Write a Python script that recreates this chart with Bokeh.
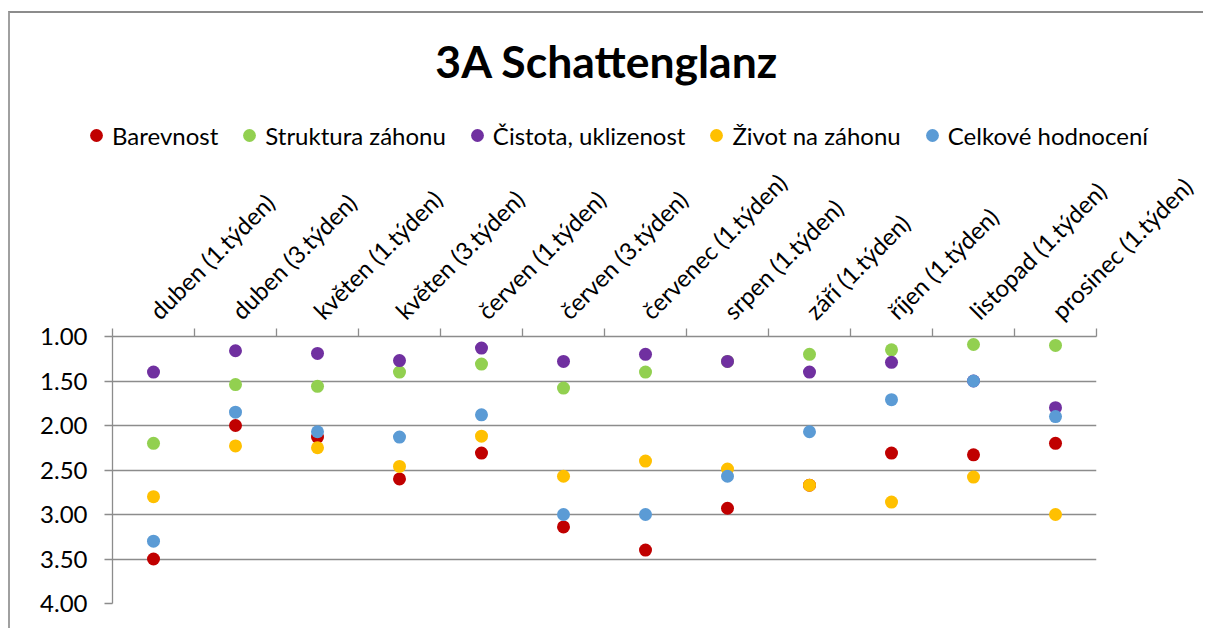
import math
from bokeh.plotting import figure
from bokeh.layouts import column
from bokeh.models import (Range1d, LinearAxis, FixedTicker, NumeralTickFormatter,
                          Legend, LegendItem)
from bokeh.embed import file_html
from bokeh.resources import INLINE

categories = ["duben (1.týden)", "duben (3.týden)", "květen (1.týden)", "květen (3.týden)",
              "červen (1.týden)", "červen (3.týden)", "červenec (1.týden)", "srpen (1.týden)",
              "září (1.týden)", "říjen (1.týden)", "listopad (1.týden)", "prosinec (1.týden)"]

barevnost = [3.50, 2.00, 2.13, 2.60, 2.31, 3.14, 3.40, 2.93, 2.67, 2.31, 2.33, 2.20]
struktura = [2.20, 1.54, 1.56, 1.40, 1.31, 1.58, 1.40, 1.28, 1.20, 1.15, 1.09, 1.10]
cistota   = [1.40, 1.16, 1.19, 1.27, 1.13, 1.28, 1.20, 1.28, 1.40, 1.29, 1.50, 1.80]
zivot     = [2.80, 2.23, 2.25, 2.46, 2.12, 2.57, 2.40, 2.49, 2.67, 2.86, 2.58, 3.00]
celkove   = [3.30, 1.85, 2.07, 2.13, 1.88, 3.00, 3.00, 2.57, 2.07, 1.71, 1.50, 1.90]

series_names = ["Barevnost", "Struktura záhonu", "Čistota, uklizenost", "Život na záhonu", "Celkové hodnocení"]
series_values = [barevnost, struktura, cistota, zivot, celkove]
series_colors = ["#C00000", "#92D050", "#7030A0", "#FFC000", "#5B9BD5"]

y_ticks = [1.0, 1.5, 2.0, 2.5, 3.0, 3.5, 4.0]

FONT = "Lato"
GRAY = "#8c8c8c"

n = len(categories)
centers = [i + 0.5 for i in range(n)]
bounds = [float(i) for i in range(n + 1)]

W = 1193

# ---------------- header: title + legend ----------------
head = figure(width=W, height=141, output_backend="svg", toolbar_location=None,
              x_range=Range1d(0, n), y_range=Range1d(-1, 0),
              x_axis_location=None, y_axis_location=None,
              min_border_left=0, min_border_right=0, min_border_top=78, min_border_bottom=0)
head.frame_align = False
head.outline_line_color = None
head.grid.visible = False
head.title.text = "3A Schattenglanz"
head.title.align = "center"
head.title.offset = 12
head.title.standoff = 10
head.title.text_font = FONT
head.title.text_font_style = "bold"
head.title.text_font_size = "44.5px"
head.title.text_color = "black"

items = []
for name, vals, col in zip(series_names, series_values, series_colors):
    # legend keys only: same series, hidden in the header
    r = head.scatter(centers, vals, size=13, fill_color=col, line_color=None, visible=False)
    items.append(LegendItem(label=name, renderers=[r]))

legend = Legend(items=items, orientation="horizontal", location=(70, 3))
legend.label_text_font = FONT
legend.label_text_font_size = "24px"
legend.label_text_color = "black"
legend.glyph_width = 32
legend.glyph_height = 32
legend.label_standoff = 0
legend.spacing = 15
legend.border_line_color = None
legend.background_fill_alpha = 0
legend.padding = 0
legend.margin = 0
head.add_layout(legend, "center")

# ---------------- main plot ----------------
p = figure(width=W, height=474, output_backend="svg", toolbar_location=None,
           x_range=Range1d(0, n), y_range=Range1d(4, 1),
           x_axis_location=None, y_axis_location="left",
           min_border_left=102, min_border_right=107, min_border_top=182, min_border_bottom=25)
p.frame_align = False
p.outline_line_color = None

p.xgrid.visible = False
p.ygrid.ticker = FixedTicker(ticks=y_ticks)
p.ygrid.grid_line_color = GRAY
p.ygrid.grid_line_width = 1.3

ya = p.yaxis[0]
ya.ticker = FixedTicker(ticks=y_ticks)
ya.formatter = NumeralTickFormatter(format="0.00")
ya.axis_line_color = GRAY
ya.axis_line_width = 1.3
ya.major_tick_line_color = GRAY
ya.major_tick_line_width = 1.3
ya.major_tick_out = 8
ya.major_tick_in = 0
ya.minor_tick_line_color = None
ya.major_label_text_font = FONT
ya.major_label_text_font_size = "24px"
ya.major_label_text_color = "black"
ya.major_label_standoff = 17

xa = LinearAxis(ticker=FixedTicker(ticks=centers, minor_ticks=bounds))
xa.major_label_overrides = {c: lab for c, lab in zip(centers, categories)}
xa.major_label_orientation = math.pi / 4
xa.major_tick_line_color = None
xa.major_tick_out = 0
xa.major_tick_in = 0
xa.minor_tick_line_color = GRAY
xa.minor_tick_line_width = 1.3
xa.minor_tick_out = 8
xa.minor_tick_in = 0
xa.axis_line_color = GRAY
xa.axis_line_width = 1.3
xa.major_label_text_font = FONT
xa.major_label_text_font_size = "24px"
xa.major_label_text_color = "black"
xa.major_label_standoff = 14
p.add_layout(xa, "above")

for name, vals, col in zip(series_names, series_values, series_colors):
    p.scatter(centers, vals, size=13, fill_color=col, line_color=None)

layout = column(head, p, spacing=0,
                styles={"border-left": "2px solid #a0a0a0", "border-top": "2px solid #8c8c8c",
                        "margin-top": "11px", "margin-left": "8px"})

open("out.html", "w").write(file_html(layout, INLINE))
